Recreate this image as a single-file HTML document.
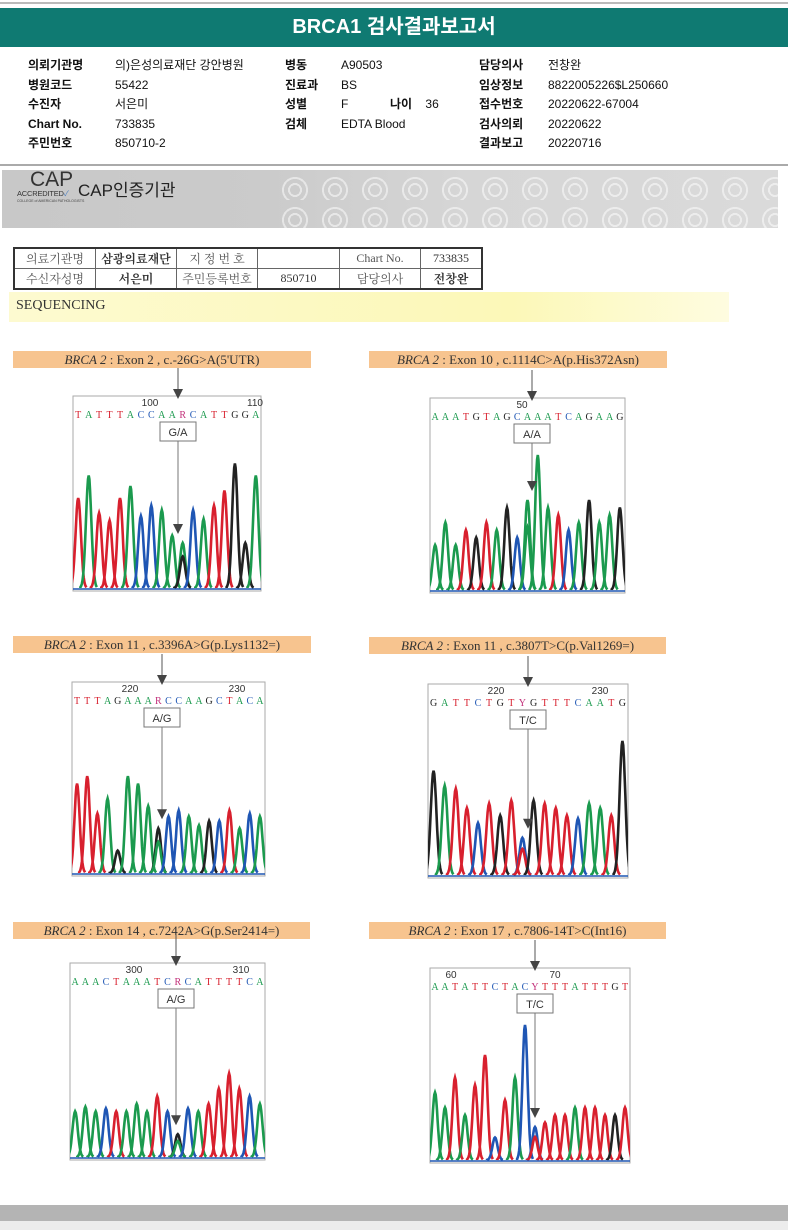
<!DOCTYPE html>
<html><head><meta charset="utf-8">
<style>
body{margin:0;width:788px;height:1230px;background:#fff;position:relative;overflow:hidden;font-family:"Liberation Sans","Noto Sans CJK KR",sans-serif}
.abs{position:absolute}
.hdr{left:0;top:8px;width:788px;height:39px;background:#0f7a72;color:#fff;font-weight:bold;font-size:20px;text-align:center;line-height:39px}
.info{font-size:12px;color:#111}
.info b{font-weight:bold}
.lbl{background:#f7c48f;font-family:"Liberation Serif",serif;font-size:13px;color:#333;text-align:center;line-height:17px;height:17px}
svg{position:absolute;left:0;top:0}
</style></head><body>
<div class="abs" style="left:0;top:2px;width:788px;height:2px;background:#bbb"></div>
<div class="abs hdr">BRCA1 검사결과보고서</div>
<div class="abs info" style="left:28px;top:56px;line-height:19.5px"><b>의뢰기관명</b><br><b>병원코드</b><br><b>수진자</b><br><b>Chart No.</b><br><b>주민번호</b></div>
<div class="abs info" style="left:115px;top:56px;line-height:19.5px">의)은성의료재단 강안병원<br>55422<br>서은미<br>733835<br>850710-2</div>
<div class="abs info" style="left:285px;top:56px;line-height:19.5px"><b>병동</b><br><b>진료과</b><br><b>성별</b><br><b>검체</b></div>
<div class="abs info" style="left:341px;top:56px;line-height:19.5px">A90503<br>BS<br>F<br>EDTA Blood</div>
<div class="abs info" style="left:390px;top:95px"><b>나이</b>&nbsp;&nbsp;&nbsp;&nbsp;36</div>
<div class="abs info" style="left:479px;top:56px;line-height:19.5px"><b>담당의사</b><br><b>임상정보</b><br><b>접수번호</b><br><b>검사의뢰</b><br><b>결과보고</b></div>
<div class="abs info" style="left:548px;top:56px;line-height:19.5px">전창완<br>8822005226$L250660<br>20220622-67004<br>20220622<br>20220716</div>
<div class="abs" style="left:0;top:164px;width:788px;height:2px;background:#aaa"></div>
<div class="abs" style="left:2px;top:170px;width:776px;height:58px;background:linear-gradient(90deg,#c8c8c8 0%,#cbcbcb 35%,#d6d6d6 60%,#dadada 100%)"></div>
<div class="abs" style="left:275px;top:170px;width:503px;height:58px;background:radial-gradient(circle at 20px 20px,rgba(255,255,255,0) 0 5px,rgba(255,255,255,0.5) 5px 7px,rgba(255,255,255,0) 7px 11px,rgba(255,255,255,0.5) 11px 13px,rgba(255,255,255,0) 13px);background-size:40px 30px"></div>
<div class="abs" style="left:30px;top:168px;font-size:21px;color:#333">CAP</div>
<div class="abs" style="left:17px;top:188px;font-size:7.5px;color:#333;letter-spacing:-0.2px">ACCREDITED<span style="color:#4a7fc0">✓</span></div>
<div class="abs" style="left:17px;top:199px;font-size:3.5px;color:#444">COLLEGE of AMERICAN PATHOLOGISTS</div>
<div class="abs" style="left:78px;top:176px;font-size:17px;color:#222">CAP인증기관</div>
<table class="abs" style="left:13px;top:247px;width:470px;border-collapse:collapse;font-size:12px;color:#555;text-align:center;font-family:'Liberation Serif','Noto Serif CJK SC',serif;border:2px solid #333">
<tr style="height:14px"><td style="border:1px solid #666;width:78px">의료기관명</td><td style="border:1px solid #666;width:78px;font-weight:bold;color:#333">삼광의료재단</td><td style="border:1px solid #666;width:78px">지 정 번 호</td><td style="border:1px solid #666;width:79px"></td><td style="border:1px solid #666;width:78px">Chart No.</td><td style="border:1px solid #666;color:#333">733835</td></tr>
<tr style="height:14px"><td style="border:1px solid #666">수신자성명</td><td style="border:1px solid #666;font-weight:bold;color:#333">서은미</td><td style="border:1px solid #666">주민등록번호</td><td style="border:1px solid #666;color:#333">850710</td><td style="border:1px solid #666">담당의사</td><td style="border:1px solid #666;font-weight:bold;color:#333">전창완</td></tr>
</table>
<div class="abs" style="left:9px;top:292px;width:720px;height:30px;background:linear-gradient(90deg,#fdfad0,#fcf8b8 70%,#fefce0)"></div>
<div class="abs" style="left:16px;top:298px;font-family:'Liberation Serif',serif;font-size:14px;color:#333">SEQUENCING</div>

<div class="abs lbl" style="left:13px;top:351px;width:298px"><i>BRCA 2</i> : Exon 2 , c.-26G&gt;A(5'UTR)</div>
<div class="abs lbl" style="left:369px;top:351px;width:298px"><i>BRCA 2</i> : Exon 10 , c.1114C&gt;A(p.His372Asn)</div>
<div class="abs lbl" style="left:13px;top:636px;width:298px"><i>BRCA 2</i> : Exon 11 , c.3396A&gt;G(p.Lys1132=)</div>
<div class="abs lbl" style="left:369px;top:637px;width:297px"><i>BRCA 2</i> : Exon 11 , c.3807T&gt;C(p.Val1269=)</div>
<div class="abs lbl" style="left:13px;top:922px;width:297px"><i>BRCA 2</i> : Exon 14 , c.7242A&gt;G(p.Ser2414=)</div>
<div class="abs lbl" style="left:369px;top:922px;width:297px"><i>BRCA 2</i> : Exon 17 , c.7806-14T&gt;C(Int16)</div>

<div class="abs" style="left:0;top:1205px;width:788px;height:16px;background:#b4b4b4"></div>
<div class="abs" style="left:0;top:1221px;width:788px;height:9px;background:#ececec"></div>

<svg id="s" width="788" height="1230" xmlns="http://www.w3.org/2000/svg"></svg>
<script>
var C={A:'#1b9a4e',T:'#d8202e',C:'#1f56b4',G:'#222',R:'#c2307a',Y:'#c2307a'};
var charts=[
 {x:73,y:396,w:188,h:195,ax:178,seq:'TATTTACCAARCATTGGA',n1:'100',n1x:150,n2:'110',n2x:255,box:'G/A',mut:10,mc:['A','G'],
  hs:[.6,.75,.5,.45,.6,.68,.48,.55,.52,.35,.3,.52,.46,.55,.65,.83,.3,.75]},
 {x:430,y:398,w:195,h:195,ax:532,seq:'AAATGTAGCAAATCAGAAG',n1:'50',n1x:522,box:'A/A',mut:9,mc:['A','A'],
  hs:[.3,.45,.3,.4,.35,.45,.4,.55,.35,.6,.9,.55,.5,.4,.45,.6,.45,.5,.55]},
 {x:72,y:682,w:193,h:194,ax:162,seq:'TTTAGAAARCCAAGCTACA',n1:'220',n1x:130,n2:'230',n2x:237,box:'A/G',mut:8,mc:['G','A'],
  hs:[.6,.65,.4,.5,.15,.65,.6,.45,.3,.38,.42,.38,.32,.35,.35,.42,.3,.4,.38]},
 {x:428,y:684,w:200,h:194,ax:528,seq:'GATTCTGTYGTTTCAATG',n1:'220',n1x:496,n2:'230',n2x:600,box:'T/C',mut:8,mc:['C','T'],
  hs:[.7,.6,.58,.45,.35,.48,.4,.5,.25,.5,.48,.45,.4,.38,.48,.45,.4,.9]},
 {x:70,y:963,w:195,h:197,ax:176,seq:'AAACTAAATCRCATTTTCA',n1:'300',n1x:134,n2:'310',n2x:241,box:'A/G',mut:10,mc:['G','A'],
  hs:[.3,.33,.3,.32,.3,.3,.35,.3,.4,.3,.15,.32,.3,.35,.45,.55,.45,.4,.35]},
 {x:430,y:968,w:200,h:195,ax:535,seq:'AATATTCTACYTTTATTTGT',n1:'60',n1x:451,n2:'70',n2x:555,box:'T/C',mut:10,mc:['C','T'],
  hs:[.45,.35,.55,.3,.5,.7,.15,.4,.55,.9,.22,.25,.3,.3,.35,.35,.35,.3,.3,.35]}
];
var s='';
function peak(px,base,h,w,col){
 var d='M'+(px-w*2.4).toFixed(1)+' '+base;
 for(var t=-2.4;t<=2.41;t+=0.2){d+=' L'+(px+t*w).toFixed(1)+' '+(base-h*Math.exp(-t*t/1.2)).toFixed(1);}
 return '<path d="'+d+'" fill="none" stroke="'+col+'" stroke-width="2.6"/>';
}
charts.forEach(function(c){
 var bottom=c.y+c.h;
 s+='<rect x="'+c.x+'" y="'+c.y+'" width="'+c.w+'" height="'+c.h+'" fill="#fff" stroke="#aaa" stroke-width="1"/>';
 var n=c.seq.length, sp=c.w/n, ph=c.h-45;
 for(var i=0;i<n;i++){
  var px=c.x+sp*(i+0.5), L=c.seq[i];
  s+='<text x="'+px.toFixed(1)+'" y="'+(c.y+22)+'" font-family="Liberation Serif,serif" font-size="10" fill="'+C[L]+'" text-anchor="middle">'+L+'</text>';
 }
 var body='';
 for(var i=0;i<n;i++){
  var px=c.x+sp*(i+0.5), L=c.seq[i], base=bottom-3, w=sp*0.33;
  if(i==c.mut){
   body+=peak(px,base,c.hs[i]*ph,w,C[c.mc[0]]);
   body+=peak(px,base,c.hs[i]*ph*0.7,w,C[c.mc[1]]);
  } else body+=peak(px,base,c.hs[i]*ph,w,C[L]);
 }
 s+='<clipPath id="cp'+c.x+c.y+'"><rect x="'+c.x+'" y="'+c.y+'" width="'+c.w+'" height="'+c.h+'"/></clipPath><g clip-path="url(#cp'+c.x+c.y+')">'+body+'</g>';
 s+='<line x1="'+c.x+'" y1="'+(bottom-2)+'" x2="'+(c.x+c.w)+'" y2="'+(bottom-2)+'" stroke="#1f56b4" stroke-width="1.5"/>';
 s+='<text x="'+c.n1x+'" y="'+(c.y+10)+'" font-size="10" fill="#333" text-anchor="middle">'+c.n1+'</text>';
 if(c.n2) s+='<text x="'+c.n2x+'" y="'+(c.y+10)+'" font-size="10" fill="#333" text-anchor="middle">'+c.n2+'</text>';
 s+='<line x1="'+c.ax+'" y1="'+(c.y-28)+'" x2="'+c.ax+'" y2="'+(c.y-2)+'" stroke="#555" stroke-width="1"/>';
 s+='<polygon points="'+(c.ax-5)+','+(c.y-7)+' '+(c.ax+5)+','+(c.y-7)+' '+c.ax+','+(c.y+3)+'" fill="#444"/>';
 s+='<rect x="'+(c.ax-18)+'" y="'+(c.y+26)+'" width="36" height="19" fill="#fff" stroke="#777"/>';
 s+='<text x="'+c.ax+'" y="'+(c.y+40)+'" font-size="11" fill="#333" text-anchor="middle">'+c.box+'</text>';
 var ay=bottom-c.hs[c.mut]*ph-14;
 s+='<line x1="'+c.ax+'" y1="'+(c.y+45)+'" x2="'+c.ax+'" y2="'+ay+'" stroke="#777" stroke-width="1"/>';
 s+='<polygon points="'+(c.ax-5)+','+(ay-8)+' '+(c.ax+5)+','+(ay-8)+' '+c.ax+','+(ay+2)+'" fill="#444"/>';
});
document.getElementById('s').innerHTML=s;
</script>
</body></html>
